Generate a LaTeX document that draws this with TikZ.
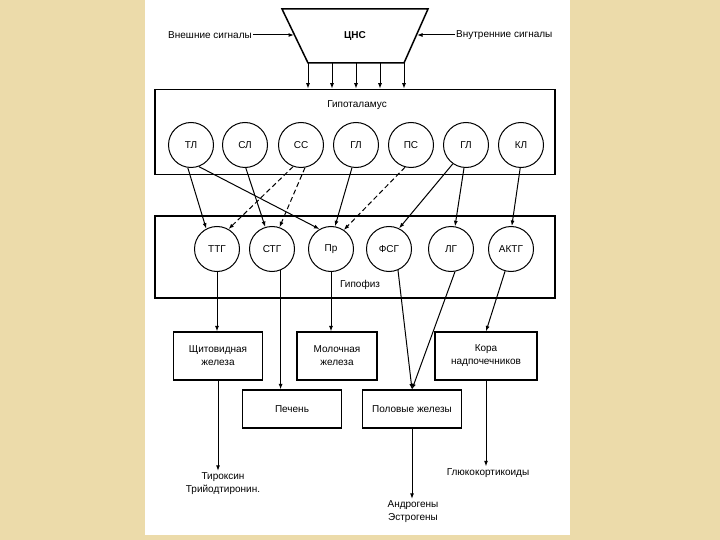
\documentclass[tikz,border=0pt]{standalone}
\usepackage{fontspec}
\setmainfont{Liberation Sans}
\usetikzlibrary{arrows.meta,positioning}
\definecolor{parch}{RGB}{236,219,170}

\tikzset{
    frame/.style={draw, line width=1.5pt},
    gland/.style={circle, draw, line width=1pt, minimum size=45pt, inner sep=0pt},
    organ/.style={draw, line width=1.2pt, align=center},
    link/.style={->, line width=1pt},
    weak/.style={link, dash pattern=on 5pt off 3pt},
}

\begin{document}
\begin{tikzpicture}[x=1pt, y=-1pt, >={Latex[length=5.5pt,width=4pt]},
        font=\fontsize{10}{13}\selectfont]
    % Background
    \fill[parch] (0,0) rectangle (720,540);
    \fill[white] (145,0) rectangle (570,535);
    \useasboundingbox (0,0) rectangle (720,540);

    % CNS
    \draw[frame] (282,9) -- (428,9) -- (404,63) -- (308,63) -- cycle;
    \node[font=\fontsize{10}{12}\bfseries] (cns) at (355,36) {ЦНС};
    \coordinate (cnsL) at (294,35);
    \coordinate (cnsR) at (417,35);
    \node[anchor=east, inner sep=1pt] (ext) at (253,35) {Внешние сигналы};
    \node[anchor=west, inner sep=1pt] (int) at (455,35) {Внутренние сигналы};
    \draw[link] (ext) -- (cnsL);
    \draw[link] (int) -- (cnsR);

    % Hypothalamus
    \node[frame, minimum width=400pt, minimum height=85pt] (hyp) at (355,132) {};
    \node (hyptitle) at (357,105) {Гипоталамус};
    \foreach \i/\v/\x in {
            1/ТЛ/191,2/СЛ/245,
            3/СС/301,4/ГЛ/356,
            5/ПС/411,6/ГЛ/466,
            7/КЛ/521
            } {
        \node[gland] (h\i) at (\x,145) {\v};
    }

    % CNS to hypothalamus
    \foreach \i/\x in {1/308,2/332,3/356,4/380,5/404} {
        \coordinate (cnsout\i) at (\x,63);
        \draw[link] (cnsout\i) -- (cnsout\i |- hyp.north);
    }

    % Pituitary
    \node[frame, minimum width=400pt, minimum height=82pt] (pit) at (355,257) {};
    \node (pittitle) at (360,285) {Гипофиз};
    \foreach \i/\v/\x in {
            1/ТТГ/217,2/СТГ/272,
            3/Пр/331,4/ФСГ/389,
            5/ЛГ/451,6/АКТГ/511
            } {
        \node[gland] (p\i) at (\x,249) {\v};
    }

    % Hypothalamus to pituitary
    \draw[link] (h1.-98) -- (p1.118);
    \draw[link] (h1.-70) -- (p3.120);
    \draw[link] (h2.-88) -- (p2.107);
    \draw[weak] (h3.-110) -- (p1.60);
    \draw[weak] (h3.-80) -- (p2.71);
    \draw[link] (h4.-100) -- (p3.80);
    \draw[weak] (h5.-105) -- (p3.56);
    \draw[link] (h6.-125) -- (p4.64);
    \draw[link] (h6.-95) -- (p5.80);
    \draw[link] (h7.-92) -- (p6.88);

    % Target glands
    \node[organ, minimum width=89pt, minimum height=48pt] (thy) at (218,356) {Щитовидная\\железа};
    \node[organ, minimum width=80pt, minimum height=48pt] (milk) at (337,356) {Молочная\\железа};
    \node[organ, minimum width=102pt, minimum height=48pt] (adr) at (486,356) {Кора\\надпочечников};
    \node[organ, minimum width=99pt, minimum height=38pt] (liver) at (292,409) {Печень};
    \node[organ, minimum width=99pt, minimum height=38pt] (gon) at (412,409) {Половые железы};

    % Pituitary to glands
    \draw[link] (p1.south) -- (p1.south |- thy.north);
    \draw[link] (p2.-68) -- (p2.-68 |- liver.north);
    \draw[link] (p3.south) -- (p3.south |- milk.north);
    \draw[link] (p4.-67) -- (gon.north);
    \draw[link] (p5.-80) -- (gon.north);
    \draw[link] (p6.-105) -- (adr.north);

    % Hormones
    \node[align=center, inner sep=2pt] (thyout) at (223,484) {Тироксин\\Трийодтиронин.};
    \node[inner sep=2pt] (adrout) at (488,473) {Глюкокортикоиды};
    \node[align=center, inner sep=2pt] (gonout) at (413,512) {Андрогены\\Эстрогены};
    \draw[link] (thy.south) -- (thy.south |- thyout.north);
    \draw[link] (adr.south) -- (adr.south |- adrout.north);
    \draw[link] (gon.south) -- (gon.south |- gonout.north);
\end{tikzpicture}
\end{document}
